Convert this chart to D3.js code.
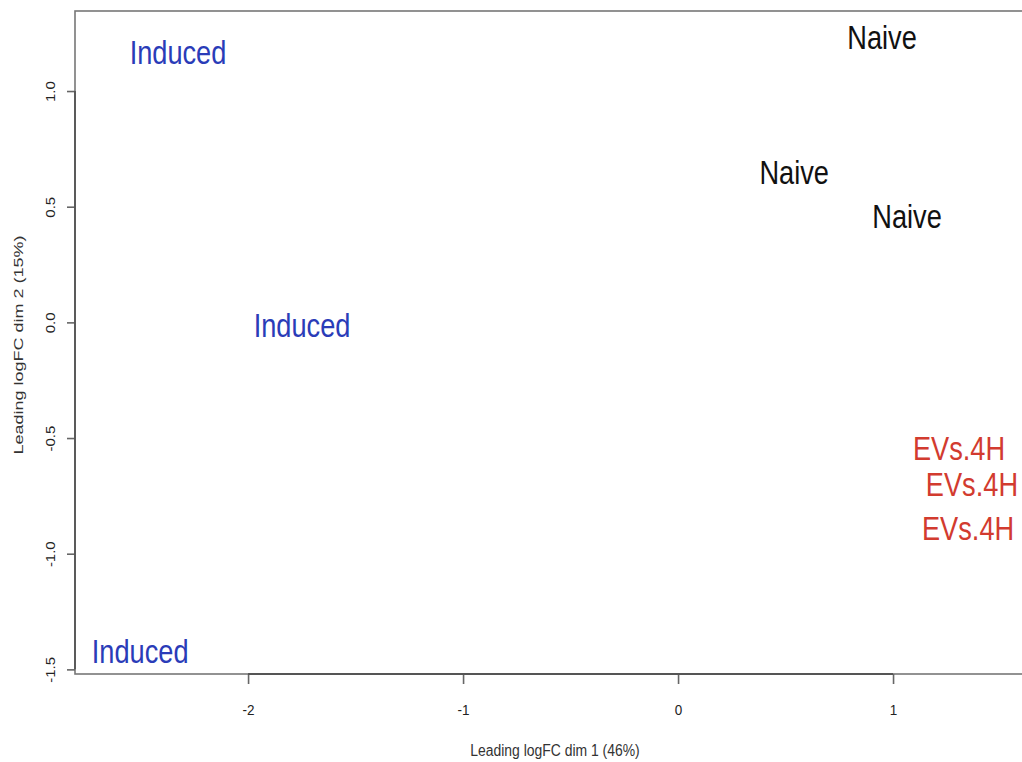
<!DOCTYPE html>
<html>
<head>
<meta charset="utf-8">
<script src="https://cdn.jsdelivr.net/npm/d3@7"></script>
<style>
  html, body { margin: 0; padding: 0; background: #fff; }
  svg { display: block; font-family: "Liberation Sans", Arial, Helvetica, sans-serif; }
</style>
</head>
<body>
<svg id="chart" width="1022" height="762"></svg>
<script>
// MDS plot: sample labels placed at (dim 1, dim 2)
const sampleLabels = ['Induced', 'Induced', 'Induced', 'Naive', 'Naive', 'Naive', 'EVs.4H', 'EVs.4H', 'EVs.4H'];
const groups = ['Induced', 'Induced', 'Induced', 'Naive', 'Naive', 'Naive', 'EVs', 'EVs', 'EVs'];
const dim1 = [-2.326, -1.749, -2.502, 0.949, 0.540, 1.065, 1.307, 1.367, 1.349];
const dim2 = [1.172, -0.010, -1.420, 1.234, 0.650, 0.463, -0.541, -0.697, -0.888];
const xTicks = [-2, -1, 0, 1];
const yTicks = [-1.5, -1.0, -0.5, 0.0, 0.5, 1.0];
const xTitle = 'Leading logFC dim 1 (46%)';
const yTitle = 'Leading logFC dim 2 (15%)';

const groupColor = { Induced: '#2a3cb8', Naive: '#111111', EVs: '#d23b2f' };

// plot frame (box runs off the right edge, as in the source picture)
const frame = { left: 75, top: 11, right: 1033, bottom: 674 };

const svg = d3.select('#chart');

const xScale = d3.scaleLinear()
  .domain([-2.805, 1.651])
  .range([frame.left, frame.right]);

const yScale = d3.scaleLinear()
  .domain([-1.52, 1.346])
  .range([frame.bottom, frame.top]);

// box
svg.append('rect')
  .attr('x', frame.left)
  .attr('y', frame.top)
  .attr('width', frame.right - frame.left)
  .attr('height', frame.bottom - frame.top)
  .attr('fill', 'none')
  .attr('stroke', '#777')
  .attr('stroke-width', 1.6);

// axes
const xAxis = d3.axisBottom(xScale)
  .tickValues(xTicks)
  .tickSize(10)
  .tickFormat(d => String(d));

const yAxis = d3.axisLeft(yScale)
  .tickValues(yTicks)
  .tickSize(8)
  .tickFormat(d => d.toFixed(1));

const gx = svg.append('g')
  .attr('class', 'x axis')
  .attr('transform', `translate(0,${frame.bottom})`)
  .call(xAxis);

const gy = svg.append('g')
  .attr('class', 'y axis')
  .attr('transform', `translate(${frame.left},0)`)
  .call(yAxis);

[gx, gy].forEach(g => {
  g.select('.domain').remove();
  g.selectAll('.tick line').attr('stroke', '#666').attr('stroke-width', 1.6);
  g.selectAll('.tick text')
    .attr('fill', '#222')
    .style('font-size', '15px');
});

// axis lines from first to last tick (R style), darker than the box
svg.append('line')
  .attr('x1', xScale(xTicks[0])).attr('x2', xScale(xTicks[xTicks.length - 1]))
  .attr('y1', frame.bottom).attr('y2', frame.bottom)
  .attr('stroke', '#555').attr('stroke-width', 1.8);

svg.append('line')
  .attr('x1', frame.left).attr('x2', frame.left)
  .attr('y1', yScale(yTicks[0])).attr('y2', yScale(yTicks[yTicks.length - 1]))
  .attr('stroke', '#555').attr('stroke-width', 1.8);

// x tick labels: slightly condensed, a bit lower
gx.selectAll('.tick text')
  .attr('y', null)
  .attr('dy', null)
  .attr('transform', 'translate(0,41) scale(0.9,1)');

// rotated y tick labels
gy.selectAll('.tick text')
  .attr('x', null)
  .attr('dy', null)
  .attr('text-anchor', 'middle')
  .attr('transform', 'translate(-20,0) scale(0.85,1) rotate(-90)');

// axis titles
svg.append('text')
  .attr('transform', `translate(555,756) scale(0.87,1)`)
  .attr('text-anchor', 'middle')
  .attr('fill', '#333')
  .style('font-size', '16px')
  .text(xTitle);

svg.append('text')
  .attr('transform', `translate(23,345) scale(0.75,1) rotate(-90)`)
  .attr('text-anchor', 'middle')
  .attr('fill', '#333')
  .style('font-size', '18px')
  .text(yTitle);

// sample labels
svg.append('g')
  .selectAll('text')
  .data(sampleLabels)
  .join('text')
  .attr('transform', (d, i) => `translate(${xScale(dim1[i])},${yScale(dim2[i])}) scale(0.8,1)`)
  .attr('text-anchor', 'middle')
  .attr('dy', '0.36em')
  .attr('fill', (d, i) => groupColor[groups[i]])
  .style('font-size', '34px')
  .text(d => d);
</script>
</body>
</html>
